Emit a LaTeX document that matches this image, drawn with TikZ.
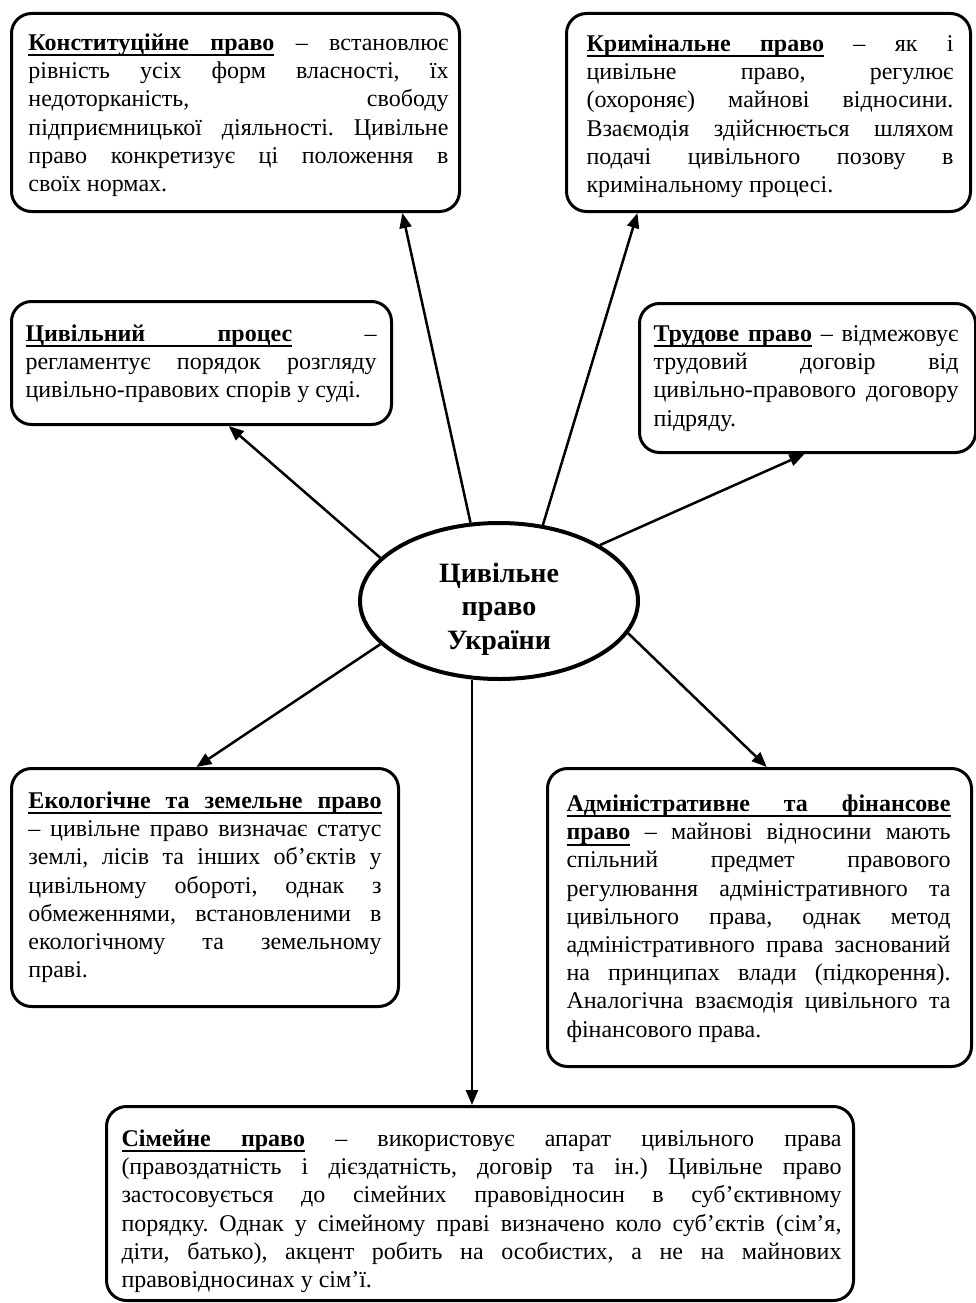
\documentclass[tikz,border=0pt]{standalone}
\usepackage{fontspec}
\setmainfont{Liberation Serif}
\usetikzlibrary{arrows.meta,shapes.geometric,calc}
\frenchspacing
\newcommand\ulw[1]{{\setbox0=\hbox{\bfseries #1}\rlap{\rule[-5.8pt]{\wd0}{2pt}}\copy0}}
\newcommand\ulsp{\leaders\hrule height -3.8pt depth 5.8pt\hskip\fontdimen2\font plus \fontdimen3\font minus \fontdimen4\font\relax}
% #1 width, #2 height, #3 left pad, #4 right pad, #5 top gap, #6 text
\newcommand\btext[6]{\parbox[c][#2][t]{#1}{\fontsize{24}{28.2}\selectfont\frenchspacing
  \leftskip=#3\rightskip=#4\tolerance=10000\hbadness=10000
  \hyphenpenalty=10000\exhyphenpenalty=10000
  \vspace*{#5}\noindent\rule{0pt}{22pt}#6\par\vfill}}
\tikzset{
  box/.style={draw, line width=3pt, rounded corners=20pt, inner sep=0pt, anchor=north west},
  ell/.style={draw, ellipse, line width=4pt, minimum width=278pt, minimum height=156pt,
    inner sep=0pt, font=\fontsize{28}{33.5}\selectfont\bfseries},
  arr/.style={line width=2.5pt, -{Triangle[length=15pt,width=12pt]}}
}
\begin{document}
\begin{tikzpicture}[x=1pt,y=1pt]
\useasboundingbox (0,0) rectangle (976,-1303);

\node[box] (b1) at (10,-12) {\btext{448pt}{198pt}{17pt}{11pt}{15pt}{%
\ulw{Конституційне}\ulsp\ulw{право} – встановлює\linebreak
рівність усіх форм власності, їх\linebreak
недоторканість, свободу\linebreak
підприємницької діяльності. Цивільне\linebreak
право конкретизує ці положення в\linebreak
своїх нормах.}};

\node[box] (b2) at (565,-12) {\btext{404pt}{198pt}{20pt}{17pt}{16pt}{%
\ulw{Кримінальне}\ulsp\ulw{право} – як і\linebreak
цивільне право, регулює\linebreak
(охороняє) майнові відносини.\linebreak
Взаємодія здійснюється шляхом\linebreak
подачі цивільного позову в\linebreak
кримінальному процесі.}};

\node[box] (b3) at (10,-300) {\btext{380pt}{123pt}{14pt}{15pt}{18pt}{%
\ulw{Цивільний}\ulsp\ulw{процес} –\linebreak
регламентує порядок розгляду\linebreak
цивільно-правових спорів у суді.}};

\node[box] (b4) at (638,-302) {\btext{336pt}{149pt}{14pt}{17pt}{16pt}{%
\ulw{Трудове}\ulsp\ulw{право} – відмежовує\linebreak
трудовий договір від\linebreak
цивільно-правового договору\linebreak
підряду.}};

\node[box] (b5) at (10,-767) {\btext{387pt}{238pt}{17pt}{17pt}{18pt}{%
\ulw{Екологічне}\ulsp\ulw{та}\ulsp\ulw{земельне}\ulsp\ulw{право}\linebreak
– цивільне право визначає статус\linebreak
землі, лісів та інших об’єктів у\linebreak
цивільному обороті, однак з\linebreak
обмеженнями, встановленими в\linebreak
екологічному та земельному\linebreak
праві.}};

\node[box] (b6) at (546,-767) {\btext{424pt}{298pt}{19pt}{21pt}{21pt}{%
\ulw{Адміністративне}\ulsp\ulw{та}\ulsp\ulw{фінансове}\linebreak
\ulw{право} – майнові відносини мають\linebreak
спільний предмет правового\linebreak
регулювання адміністративного та\linebreak
цивільного права, однак метод\linebreak
адміністративного права заснований\linebreak
на принципах влади (підкорення).\linebreak
Аналогічна взаємодія цивільного та\linebreak
фінансового права.}};

\node[box] (b7) at (105,-1105) {\btext{747pt}{194pt}{15pt}{12pt}{18pt}{%
\ulw{Сімейне}\ulsp\ulw{право} – використовує апарат цивільного права\linebreak
(правоздатність і дієздатність, договір та ін.) Цивільне право\linebreak
застосовується до сімейних правовідносин в суб’єктивному\linebreak
порядку. Однак у сімейному праві визначено коло суб’єктів (сім’я,\linebreak
діти, батько), акцент робить на особистих, а не на майнових\linebreak
правовідносинах у сім’ї.}};

\node[ell] (c) at (499,-601) {\raisebox{19pt}[0pt][0pt]{\parbox[t]{170pt}{\centering Цивільне\\право\\України}}};

\draw[arr] (c.110.4) -- ($(b1.south west)!0.87!(b1.south east)$);
\draw[arr] (c.60) -- ($(b2.south west)!0.178!(b2.south east)$);
\draw[arr] (c.160.4) -- ($(b3.south west)!0.571!(b3.south east)$);
\draw[arr] (c.29) -- ($(b4.south west)!0.491!(b4.south east)$);
\draw[arr] (c.200) -- ($(b5.north west)!0.478!(b5.north east)$);
\draw[arr] (c.-14.9) -- ($(b6.north west)!0.517!(b6.north east)$);
\draw[arr] (c.251) -- (c.251 |- b7.north);
\end{tikzpicture}
\end{document}
